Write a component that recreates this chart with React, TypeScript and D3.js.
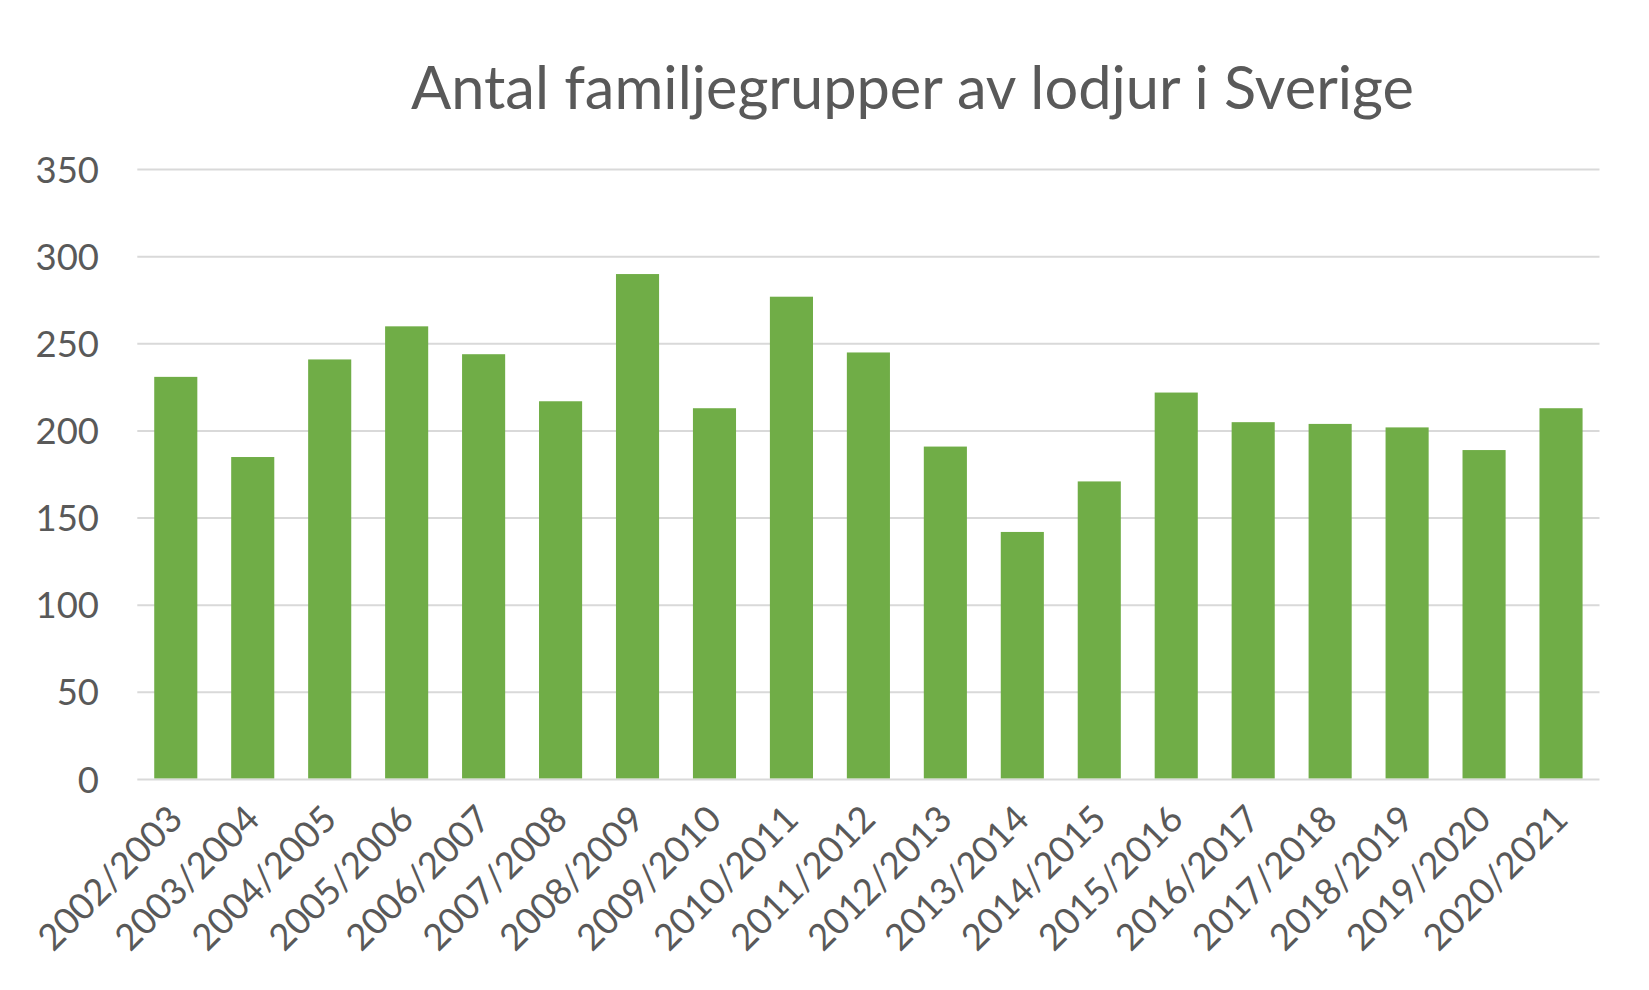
import React from "react";
import * as d3 from "d3";

const categories = [
  "2002/2003", "2003/2004", "2004/2005", "2005/2006", "2006/2007", "2007/2008",
  "2008/2009", "2009/2010", "2010/2011", "2011/2012", "2012/2013", "2013/2014",
  "2014/2015", "2015/2016", "2016/2017", "2017/2018", "2018/2019", "2019/2020",
  "2020/2021",
];
const values = [231, 185, 241, 260, 244, 217, 290, 213, 277, 245, 191, 142, 171, 222, 205, 204, 202, 189, 213];
const yTicks = [0, 50, 100, 150, 200, 250, 300, 350];
const title = "Antal familjegrupper av lodjur i Sverige";

const W = 1649;
const H = 990;
const left = 137.3;
const right = 1599.5;
const top = 169.5;
const bottom = 779.4;
const textColor = "#595959";
const font = "Lato, 'Open Sans', sans-serif";

export default function App() {
  const x = d3.scaleBand<string>().domain(categories).range([left, right]).paddingInner(0.44).paddingOuter(0.22);
  const y = d3.scaleLinear().domain([0, 350]).range([bottom, top]);
  return (
    <svg width={W} height={H} style={{ position: "absolute", left: 0, top: 0, background: "#fff" }}>
      <rect x={0} y={0} width={W} height={H} fill="#fff" />
      <text x={912.5} y={109} textAnchor="middle" fontFamily={font} fontSize={59.5} fill={textColor}>
        {title}
      </text>
      {yTicks.map((t) => (
        <g key={t}>
          <line x1={left} x2={right} y1={y(t)} y2={y(t)} stroke="#D9D9D9" strokeWidth={2} />
          <text x={99} y={y(t)} dy="0.36em" textAnchor="end" fontFamily={font} fontSize={36.5} fill={textColor}>
            {t}
          </text>
        </g>
      ))}
      {categories.map((c, i) => (
        <rect key={c} x={x(c)} y={y(values[i])} width={x.bandwidth()} height={y(0) - y(values[i]) - 1} fill="#70AD47" />
      ))}
      {categories.map((c) => {
        const cx = (x(c) as number) + x.bandwidth() / 2 + 9;
        const cy = bottom + 42;
        return (
          <text key={c} x={cx} y={cy} transform={`rotate(-45 ${cx} ${cy})`} textAnchor="end" fontFamily={font} fontSize={36.5} fill={textColor}>
            {c}
          </text>
        );
      })}
    </svg>
  );
}
